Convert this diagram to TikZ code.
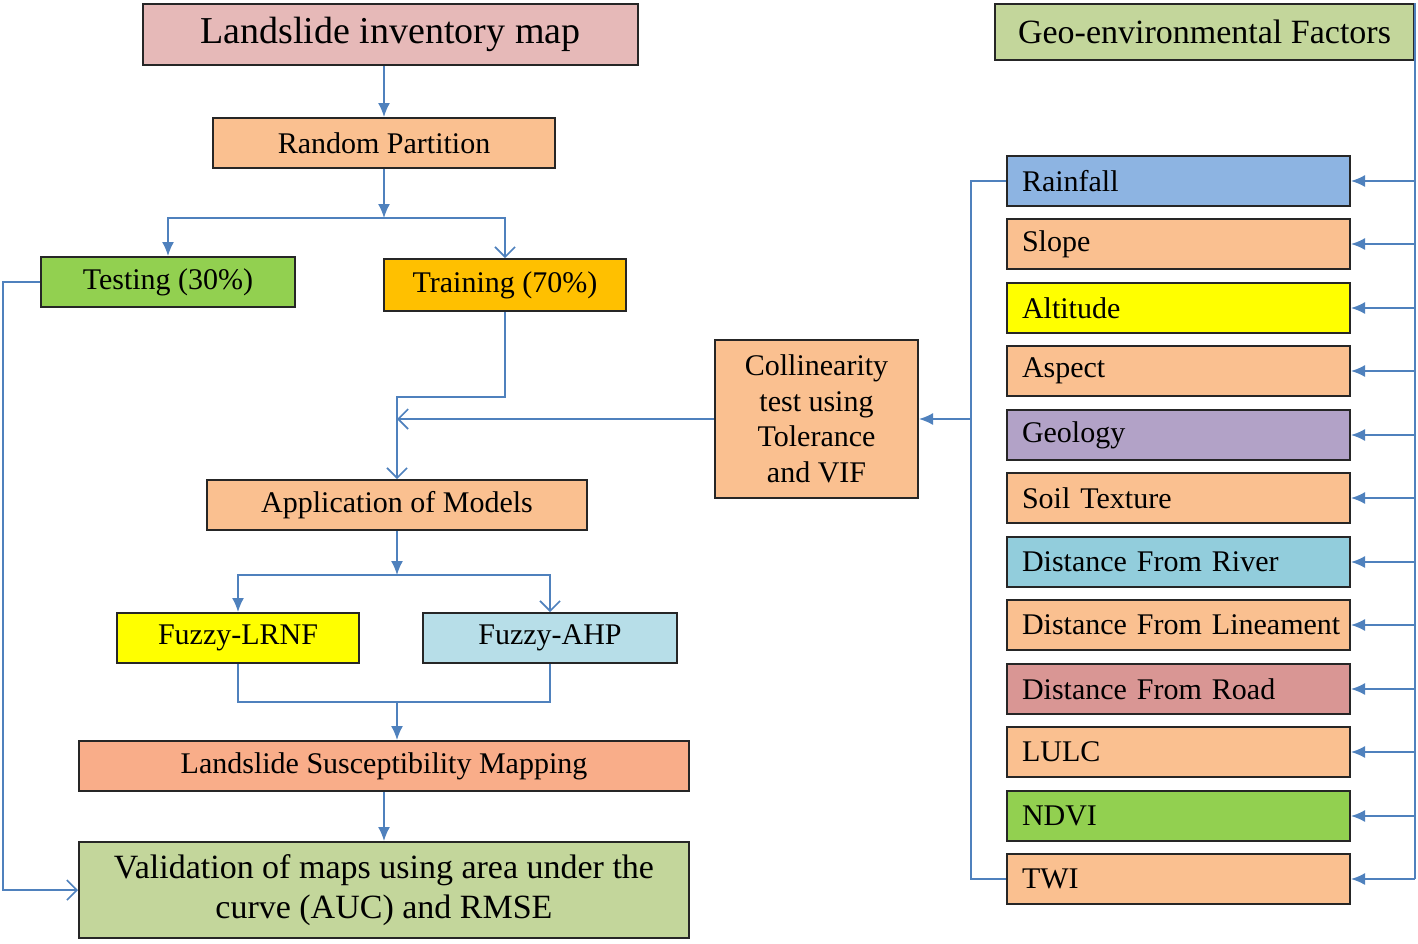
\documentclass[tikz,border=0pt]{standalone}
\usepackage{fontspec}
\setmainfont{Liberation Serif}
\usetikzlibrary{arrows.meta}
\definecolor{lineC}{HTML}{4F81BD}
\definecolor{pinkC}{HTML}{E6B9B8}
\definecolor{peachC}{HTML}{FAC090}
\definecolor{greenC}{HTML}{92D050}
\definecolor{amberC}{HTML}{FFC000}
\definecolor{yellowC}{HTML}{FFFF00}
\definecolor{iceC}{HTML}{B7DEE8}
\definecolor{salmonC}{HTML}{F9AD89}
\definecolor{oliveC}{HTML}{C3D69B}
\definecolor{rainC}{HTML}{8DB4E2}
\definecolor{lilacC}{HTML}{B2A2C7}
\definecolor{riverC}{HTML}{92CDDC}
\definecolor{roseC}{HTML}{D99694}
\tikzset{
  box/.style={draw=black!85, line width=1pt, inner sep=0pt, minimum height=25pt,
    font=\fontsize{15}{17.75}\selectfont, align=center},
  factor/.style={box, text width=171.5pt, align=left,
    execute at begin node={\hspace*{7.5pt}}},
  link/.style={draw=lineC, line width=0.8pt},
  fl/.style={link, -{Latex[length=7pt,width=6pt]}},
  ol/.style={link, -{Straight Barb[length=5pt,width=10pt]}}
}
\begin{document}
\begin{tikzpicture}[x=0.5pt,y=-0.5pt]
    \useasboundingbox (0,0) rectangle (1418,943);

    % Flujo principal
    \node[box, fill=pinkC, minimum width=247.5pt, minimum height=30.5pt,
          font=\fontsize{19}{22}\selectfont] (inv) at (390.5,34.5) {Landslide inventory map};
    \node[box, fill=peachC, minimum width=171pt] (rand) at (384,143) {Random Partition};
    \node[box, fill=greenC, minimum width=127pt] (test) at (168,282) {Testing (30\%)};
    \node[box, fill=amberC, minimum width=121pt, minimum height=26pt] (train) at (505,285) {Training (70\%)};
    \node[box, fill=peachC, minimum width=190pt] (appl) at (397,505) {Application of Models};
    \node[box, fill=yellowC, minimum width=121pt] (lrnf) at (238,638) {Fuzzy-LRNF};
    \node[box, fill=iceC, minimum width=127pt] (ahp) at (550,638) {Fuzzy-AHP};
    \node[box, fill=salmonC, minimum width=305pt] (lsm) at (384,766) {Landslide Susceptibility Mapping};
    \node[box, fill=oliveC, minimum width=305pt, minimum height=48pt,
          font=\fontsize{17}{20}\selectfont] (valid) at (384,890)
          {Validation of maps using area under the\\curve (AUC) and RMSE};
    \node[box, fill=peachC, minimum width=101.5pt, minimum height=79pt] (coll) at (816.5,419)
          {Collinearity\\test using\\Tolerance\\and VIF};

    % Fattori
    \node[box, fill=oliveC, minimum width=209.5pt, minimum height=28pt,
          font=\fontsize{17}{20}\selectfont] (geo) at (1204.5,32) {Geo-environmental Factors};
    \foreach \lab/\col/\yy [count=\i] in {Rainfall/rainC/181, Slope/peachC/244,
        Altitude/yellowC/308, Aspect/peachC/371, Geology/lilacC/435,
        Soil Texture/peachC/498, Distance From River/riverC/562,
        Distance From Lineament/peachC/625, Distance From Road/roseC/689,
        LULC/peachC/752, NDVI/greenC/816, TWI/peachC/879}
      \node[factor, fill=\col] (f\i) at (1178.5,\yy) {\lab};

    % Collegamenti
    \coordinate (s1) at (384,218);
    \coordinate (s2) at (397,575);
    \coordinate (m1) at (397,702);
    \coordinate (lbus) at (971,181);

    \draw[fl] (inv.south -| rand.north) -- (rand.north);
    \draw[fl] (rand.south) -- (s1);
    \draw[fl] (s1) -| (test.north);
    \draw[ol] (s1) -| (train.north);
    \draw[ol] (train.south) -- ++(0,85) -| (appl.north);
    \draw[ol] (coll.west) -- (coll.west -| appl.north);
    \draw[fl] (appl.south) -- (s2);
    \draw[fl] (s2) -| (lrnf.north);
    \draw[ol] (s2) -| (ahp.north);
    \draw[link] (lrnf.south) |- (m1) -| (ahp.south);
    \draw[fl] (m1) -- (m1 |- lsm.north);
    \draw[fl] (lsm.south) -- (valid.north);
    \draw[ol] (test.west) -- ++(-37,0) |- (valid.west);

    % Bus dei fattori
    \draw[link] (geo.north east) -- (geo.north east |- f12.east);
    \foreach \i in {1,...,12}
      \draw[fl] (geo.north east |- f\i.east) -- (f\i.east);
    \draw[link] (f1.west) -- (lbus) |- (f12.west);
    \draw[fl] (coll.east -| lbus) -- (coll.east);
\end{tikzpicture}
\end{document}
